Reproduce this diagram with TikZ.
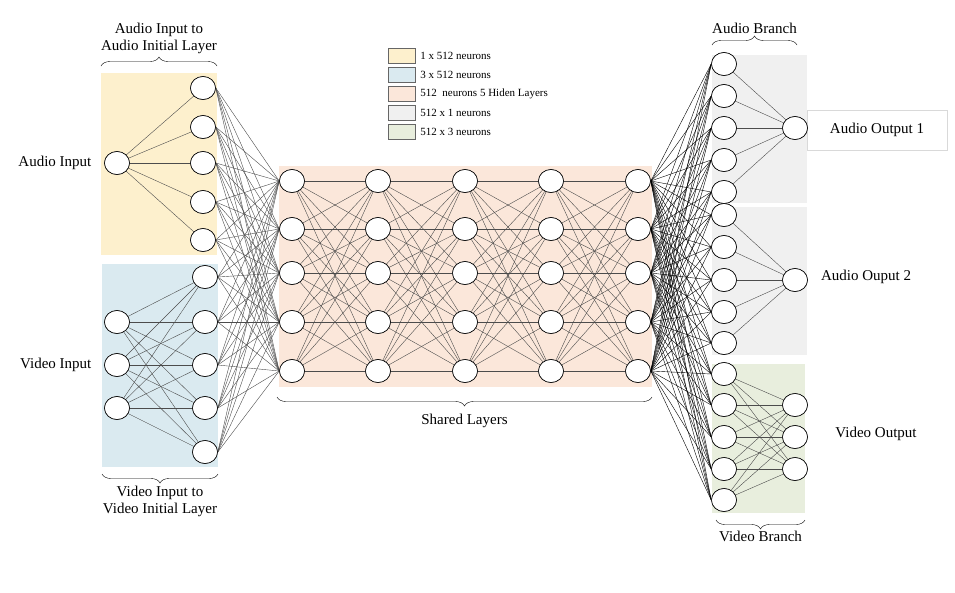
\documentclass[tikz,border=0pt]{standalone}
\usepackage{fontspec}
\setmainfont{Liberation Serif}
\usepackage{tikz}
\usetikzlibrary{arrows}
\usetikzlibrary{shapes}
\usetikzlibrary{decorations.pathreplacing}
\definecolor{audioyellow}{HTML}{FDF0CD}
\definecolor{videoblue}{HTML}{DAEAF0}
\definecolor{sharedpeach}{HTML}{FBE7DA}
\definecolor{branchgray}{HTML}{F0F0F0}
\definecolor{branchgreen}{HTML}{E8EEDD}

\begin{document}
\begin{tikzpicture}[x=1pt,y=-1pt,semithick,
                    font=\fontsize{15}{17}\selectfont]
\tikzstyle{neuron}=[draw,ellipse,fill=white,minimum width=25pt,minimum height=23pt,inner sep=0pt]
\tikzstyle{wire}=[draw=black!70,thin]
\tikzstyle{bwire}=[draw=black,thin]
\tikzstyle{brc}=[draw,thin,decorate,decoration={brace,amplitude=9pt}]
\tikzstyle{key}=[draw=black!60,minimum width=27pt,minimum height=15pt,inner sep=0pt]
\useasboundingbox (0,0) rectangle (955,592);

% background boxes
\fill[audioyellow] (101,73) rectangle (217,255);
\fill[videoblue] (102,264) rectangle (218,467);
\fill[sharedpeach] (279,166) rectangle (652,387);
\fill[branchgray] (712,55) rectangle (807,203);
\fill[branchgray] (712,207) rectangle (807,355);
\fill[branchgreen] (712,364) rectangle (805,513);
\draw[black!15] (807,110) rectangle (947,150);

% input side
\node[neuron] (ai) at (117,163) {};
\foreach \i/\y in {1/88,2/127,3/163,4/202,5/240}
  \node[neuron] (ah\i) at (203,\y) {};
\foreach \i/\y in {1/322,2/365,3/408}
  \node[neuron] (vi\i) at (117,\y) {};
\foreach \i/\y in {1/277,2/322,3/365,4/408,5/452}
  \node[neuron] (vh\i) at (205,\y) {};

% shared layers
\foreach \l/\x in {1/292,2/378,3/465,4/551,5/638}
  \foreach \i/\y in {1/181,2/229,3/273,4/322,5/371}
    \node[neuron] (s\l\i) at (\x,\y) {};

% branches
\foreach \i/\y in {1/64,2/96,3/128,4/160,5/192}
  \node[neuron] (ba\i) at (724,\y) {};
\foreach \i/\y in {1/215,2/247,3/280,4/312,5/343}
  \node[neuron] (bb\i) at (724,\y) {};
\foreach \i/\y in {1/374,2/405,3/437,4/469,5/500}
  \node[neuron] (bv\i) at (724,\y) {};
\node[neuron] (oa) at (795,128) {};
\node[neuron] (ob) at (795,280) {};
\foreach \i/\y in {1/405,2/437,3/469}
  \node[neuron] (ov\i) at (795,\y) {};

% connections
\foreach \j in {1,...,5} {
  \path[wire] (ai) -- (ah\j);
  \foreach \i in {1,2,3} \path[wire] (vi\i) -- (vh\j);
  \foreach \k in {1,...,5} {
    \path[wire] (ah\j.east) -- (s1\k.west);
    \path[wire] (vh\j.east) -- (s1\k.west);
  }
  \foreach \l/\m in {1/2,2/3,3/4,4/5}
    \foreach \k in {1,...,5} \path[wire] (s\l\j) -- (s\m\k);
  \foreach \k in {1,...,5} {
    \path[bwire] (s5\j.east) -- (ba\k.west);
    \path[bwire] (s5\j.east) -- (bb\k.west);
    \path[bwire] (s5\j.east) -- (bv\k.west);
  }
  \path[wire] (ba\j) -- (oa);
  \path[wire] (bb\j) -- (ob);
  \foreach \i in {1,2,3} \path[wire] (bv\j) -- (ov\i);
}
% redraw neurons on top
\foreach \n in {ai,ah1,ah2,ah3,ah4,ah5,vi1,vi2,vi3,vh1,vh2,vh3,vh4,vh5,
                s11,s12,s13,s14,s15,s21,s22,s23,s24,s25,s31,s32,s33,s34,s35,
                s41,s42,s43,s44,s45,s51,s52,s53,s54,s55,
                ba1,ba2,ba3,ba4,ba5,bb1,bb2,bb3,bb4,bb5,bv1,bv2,bv3,bv4,bv5,
                oa,ob,ov1,ov2,ov3}
  \draw[fill=white] (\n.center) ellipse (12.5pt and 11.5pt);

% braces and labels
\draw[brc] (101,66) -- (217,66) node[midway,above=9pt,align=center] (ailbl) {Audio Input to\\Audio Initial Layer};
\draw[brc] (218,474) -- (102,474) node[midway,below=9pt,align=center] (vilbl) {Video Input to\\Video Initial Layer};
\draw[brc] (652,397) -- (277,397) node[midway,below=14pt] (shlbl) {Shared Layers};
\draw[brc] (712,45) -- (797,45) node[midway,above=8pt] (ablbl) {Audio Branch};
\draw[brc] (805,520) -- (716,520) node[midway,below=8pt] (vblbl) {Video Branch};
\node[left] (ailab) at (95,163) {Audio Input};
\node[left] (vilab) at (95,365) {Video Input};
\node (oalab) at (877,130) {Audio Output 1};
\node (oblab) at (866,277) {Audio Ouput 2};
\node (ovlab) at (876,434) {Video Output};

% legend
\begin{scope}[font=\fontsize{11}{13}\selectfont]
\foreach \c/\y/\t in {audioyellow/56/{1 x 512 neurons},videoblue/75/{3 x 512 neurons},
                      sharedpeach/94/{512\ \ neurons 5 Hiden Layers},
                      branchgray/113/{512 x 1 neurons},branchgreen/132/{512 x 3 neurons}}
  \node[key,fill=\c,label={[anchor=west,xshift=1pt]east:\t}] at (402,\y) {};
\end{scope}
\end{tikzpicture}
\end{document}
